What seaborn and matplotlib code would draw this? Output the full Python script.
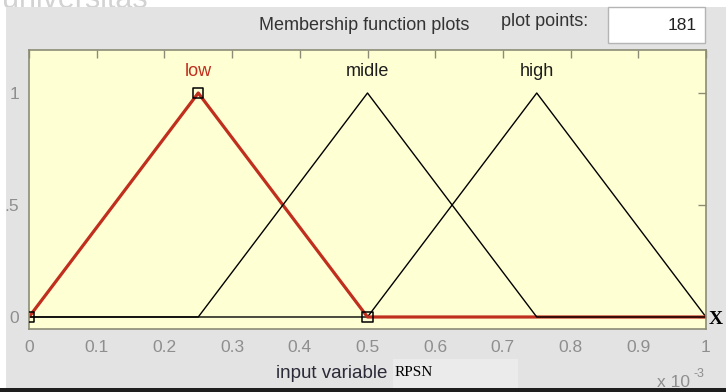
import matplotlib
matplotlib.use("Agg")
import matplotlib.pyplot as plt
from matplotlib.patches import Rectangle
import seaborn as sns

# Triangular membership functions of the input variable RPSN (x in units of 1e-3)
low_x = [0.0, 0.25, 0.5, 1.0]
low_y = [0.0, 1.0, 0.0, 0.0]
midle_x = [0.0, 0.25, 0.5, 0.75, 1.0]
midle_y = [0.0, 0.0, 1.0, 0.0, 0.0]
high_x = [0.0, 0.5, 0.75, 1.0]
high_y = [0.0, 0.0, 1.0, 0.0]

mf_names = ["low", "midle", "high"]
peak_x = [0.25, 0.5, 0.75]

# vertices (handles) of the selected function "low"
sel_x = [0.0, 0.25, 0.5]
sel_y = [0.0, 1.0, 0.0]

x_ticks = [0.0, 0.1, 0.2, 0.3, 0.4, 0.5, 0.6, 0.7, 0.8, 0.9, 1.0]
x_tick_labels = ["0", "0.1", "0.2", "0.3", "0.4", "0.5", "0.6", "0.7", "0.8", "0.9", "1"]
y_ticks = [0.0, 0.5, 1.0]
y_tick_labels = ["0", ".5", "1"]
plot_points = 181

sns.set_style("white")
plt.rcParams["font.family"] = ["Liberation Sans", "DejaVu Sans"]

W, H = 726, 392
def fx(px):
    return px / W
def fy(py):
    return 1 - py / H

PANEL = "#E3E3E3"
SPINE = "#8C8C76"
TICKLBL = "#8E8E8E"
RED = "#C02E1E"

fig = plt.figure(figsize=(W / 100, H / 100), dpi=100)
fig.patch.set_facecolor("white")

# faint watermark behind the window panel
fig.text(fx(2), fy(8), "universitas", fontsize=22, color="#D2D2D2",
         ha="left", va="baseline", zorder=-3)
# grey figure-window panel
fig.add_artist(Rectangle((fx(6), 0), 1 - fx(6), fy(7), transform=fig.transFigure,
                         facecolor=PANEL, edgecolor="none", zorder=-2))
# lighter box behind the variable name
fig.add_artist(Rectangle((fx(393), fy(388)), fx(518) - fx(393), fy(359) - fy(388),
                         transform=fig.transFigure, facecolor="#EBEBEB",
                         edgecolor="none", zorder=-1))

ax = fig.add_axes([fx(29), fy(329), fx(706) - fx(29), fy(50) - fy(329)])
ax.set_facecolor("#FFFFD4")

# draw order: high, low (selected, red), midle
sns.lineplot(x=high_x, y=high_y, color="black", linewidth=1.0, ax=ax,
             estimator=None, sort=False, legend=False)
sns.lineplot(x=low_x, y=low_y, color=RED, linewidth=2.3, ax=ax,
             estimator=None, sort=False, legend=False)
sns.lineplot(x=midle_x, y=midle_y, color="black", linewidth=1.0, ax=ax,
             estimator=None, sort=False, legend=False)
sns.scatterplot(x=sel_x, y=sel_y, marker="s", s=55, facecolor="none",
                edgecolor="black", linewidth=1.1, ax=ax, zorder=5, legend=False)

for name, px in zip(mf_names, peak_x):
    ax.text(px, 1.095, name, ha="center", va="center", fontsize=13,
            color=RED if name == "low" else "#1E1E1E")

ax.set_xlim(0, 1)
ax.set_ylim(-0.0536, 1.192)
ax.set_xticks(x_ticks)
ax.set_xticklabels(x_tick_labels)
ax.set_yticks(y_ticks)
ax.set_yticklabels(y_tick_labels)
ax.tick_params(axis="both", direction="in", length=6, width=1, color=SPINE,
               top=True, right=True, labelcolor=TICKLBL, labelsize=12.5)
ax.tick_params(axis="x", pad=8)
ax.tick_params(axis="y", pad=7)
for s in ax.spines.values():
    s.set_color(SPINE)
    s.set_linewidth(1.2)
ax.set_xlabel("")
ax.set_ylabel("")

# header
fig.text(fx(364), fy(26), "Membership function plots", ha="center", va="center",
         fontsize=13, color="#333333")
fig.text(fx(545), fy(22), "plot points:", ha="center", va="center",
         fontsize=13, color="#333333")
fig.add_artist(Rectangle((fx(608), fy(43)), fx(705) - fx(608), fy(7) - fy(43),
                         transform=fig.transFigure, facecolor="white",
                         edgecolor="#B4B4B4", linewidth=1, zorder=1))
fig.text(fx(697), fy(25), str(plot_points), ha="right", va="center",
         fontsize=12.5, color="#222222", zorder=2)

# axis label
fig.text(fx(387), fy(374), "input variable", ha="right", va="center",
         fontsize=13.5, color="#2A2A38")
fig.text(fx(395), fy(373), "RPSN", ha="left", va="center", fontsize=11,
         color="black", family=["Liberation Serif", "DejaVu Serif"])
fig.text(fx(716), fy(319), "X", ha="center", va="center", fontsize=14,
         weight="bold", color="black", family=["Liberation Serif", "DejaVu Serif"])

# exponent label near the bottom edge
fig.text(fx(657), fy(387), "x 10", ha="left", va="baseline", fontsize=12.5,
         color=TICKLBL, zorder=3)
fig.text(fx(694), fy(377), "-3", ha="left", va="baseline", fontsize=9,
         color=TICKLBL, zorder=3)
fig.add_artist(Rectangle((0, 0), 1, 4 / H, transform=fig.transFigure,
                         facecolor="#1E1E1E", edgecolor="none", zorder=10))

fig.savefig("out.png", dpi=100, facecolor=fig.get_facecolor())
